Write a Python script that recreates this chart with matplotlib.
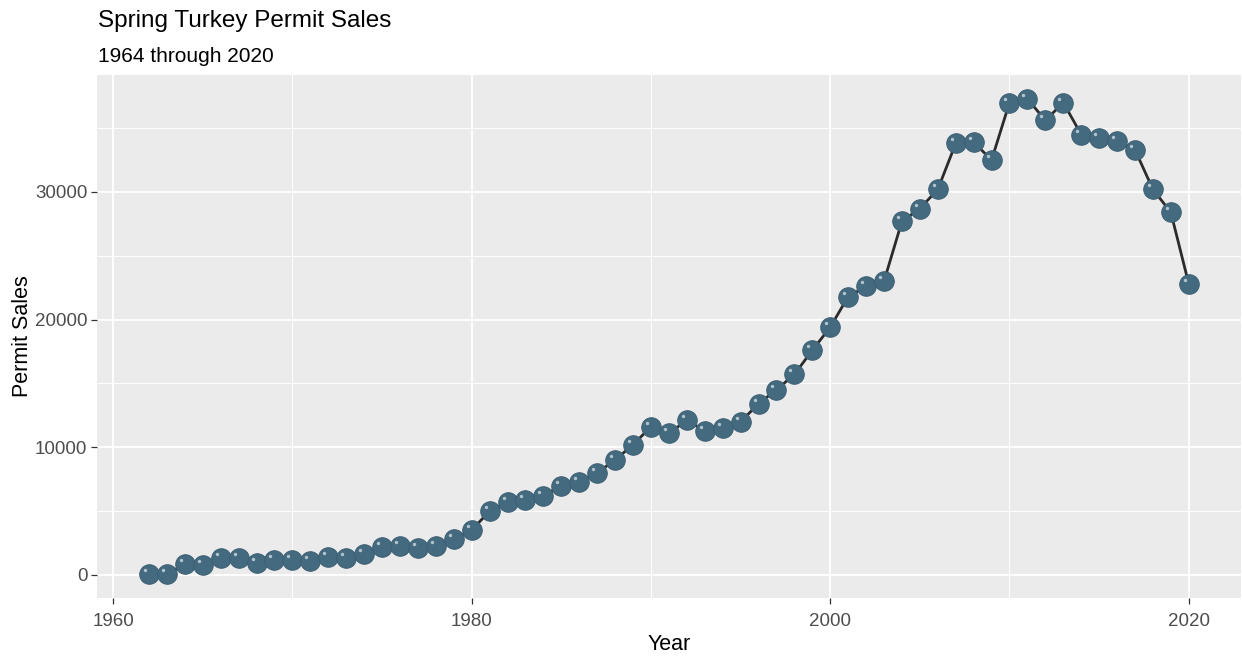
import matplotlib
matplotlib.use("Agg")
import matplotlib.pyplot as plt
import matplotlib.transforms as mtransforms
import numpy as np

plt.rcParams['font.family'] = ['Liberation Sans', 'DejaVu Sans']

# permit sales per year
years = list(range(1962, 2021))
sales = [50, 50, 850, 750, 1300, 1300, 950, 1150, 1150, 1100,
         1400, 1350, 1600, 2200, 2300, 2100, 2300, 2800, 3500, 5000,
         5700, 5900, 6200, 7000, 7300, 8000, 9000, 10200, 11600, 11100,
         12100, 11300, 11500, 12000, 13400, 14500, 15700, 17600, 19400, 21800,
         22600, 23000, 27700, 28700, 30200, 33800, 33900, 32500, 37000, 37300,
         35600, 37000, 34500, 34200, 34000, 33300, 30200, 28400, 22800]

x_ticks = [1960, 1980, 2000, 2020]
x_minor = [1970, 1990, 2010]
y_ticks = [0, 10000, 20000, 30000]
y_minor = [5000, 15000, 25000, 35000]

title = "Spring Turkey Permit Sales"
subtitle = "1964 through 2020"

fig = plt.figure(figsize=(12.42, 6.58), dpi=100)
ax = fig.add_axes([97/1242, 1 - 598/658, 1 - 97/1242 - 0.001, (598 - 75)/658])
ax.set_facecolor('#EBEBEB')

xr = max(years) - min(years)
ax.set_xlim(min(years) - 0.05*xr, max(years) + 0.05*xr)
yr = max(sales) - min(sales)
ax.set_ylim(min(sales) - 0.05*yr, max(sales) + 0.05*yr)

ax.set_xticks(x_ticks)
ax.set_xticks(x_minor, minor=True)
ax.set_yticks(y_ticks)
ax.set_yticks(y_minor, minor=True)
ax.grid(which='major', color='white', lw=1.3)
ax.grid(which='minor', color='white', lw=0.7)
ax.set_axisbelow(True)
for s in ax.spines.values():
    s.set_visible(False)
ax.tick_params(which='major', length=4, width=0.9, color='#333333',
               labelsize=13.5, labelcolor='#4D4D4D', pad=3)
ax.tick_params(axis='x', which='major', pad=6.5)
ax.tick_params(which='minor', length=0)

ax.plot(years, sales, color='#2B2B2B', lw=2, zorder=2)
ax.scatter(years, sales, s=200, color='#446A7F', edgecolors='#3A5C70',
           linewidths=0.6, zorder=3)
# little shine on each ball
shine = mtransforms.offset_copy(ax.transData, fig=fig, x=-4, y=4, units='dots')
ax.scatter(years, sales, s=6, color='white', alpha=0.6, linewidths=0,
           transform=shine, zorder=4)

ax.set_xlabel("Year", fontsize=15.5, labelpad=3)
ax.set_ylabel("Permit Sales", fontsize=15.5, labelpad=1)

fig.text(98/1242, 1 - 27/658, title, fontsize=17.5, va='baseline', ha='left')
fig.text(98/1242, 1 - 62/658, subtitle, fontsize=15, va='baseline', ha='left')

fig.savefig("out.png", dpi=100)
